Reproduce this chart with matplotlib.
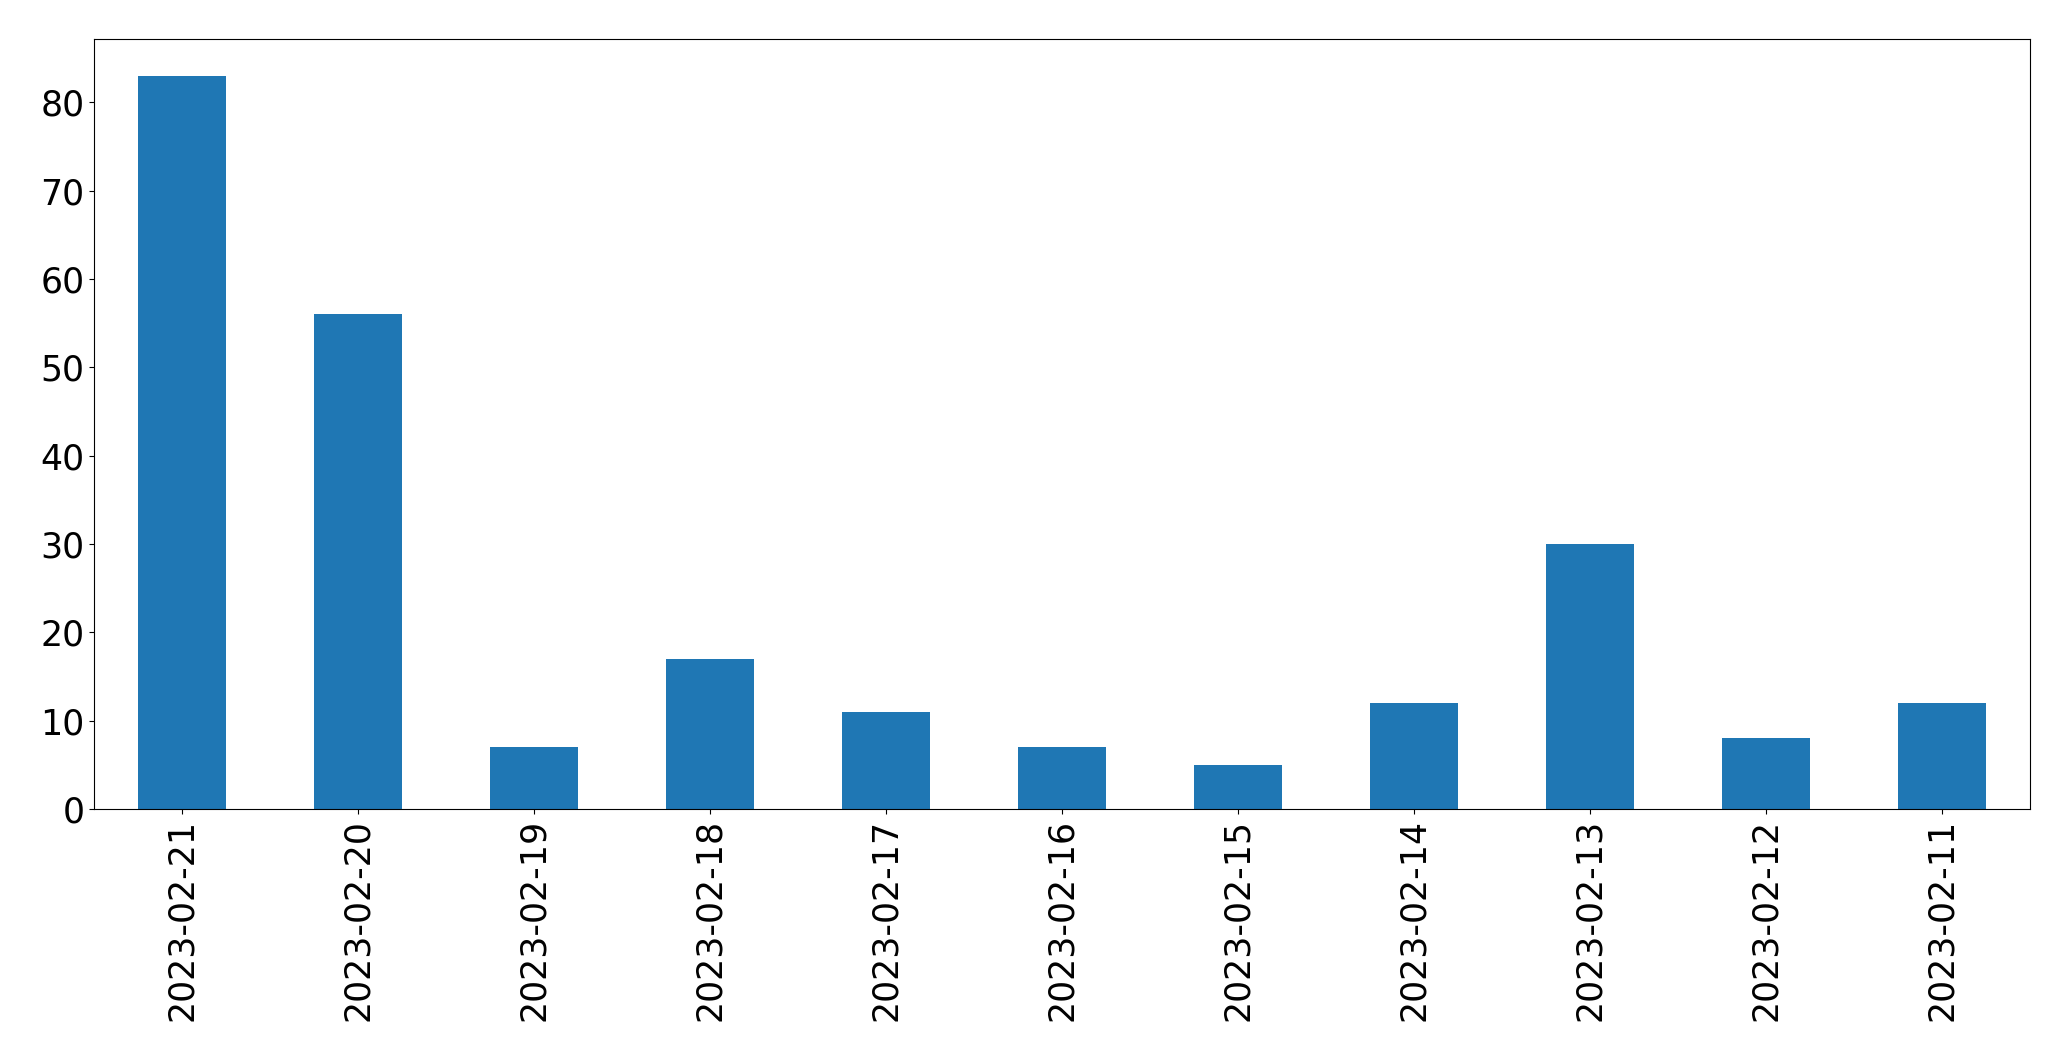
import matplotlib
matplotlib.use("Agg")
import matplotlib.pyplot as plt
import pandas as pd

dates = ["2023-02-21", "2023-02-20", "2023-02-19", "2023-02-18", "2023-02-17",
         "2023-02-16", "2023-02-15", "2023-02-14", "2023-02-13", "2023-02-12",
         "2023-02-11"]
counts = [83, 56, 7, 17, 11, 7, 5, 12, 30, 8, 12]

s = pd.Series(counts, index=dates)

fig, ax = plt.subplots(figsize=(20.71, 10.61), dpi=100)
s.plot(kind="bar", ax=ax, color="#1f77b4", fontsize=25)
fig.subplots_adjust(left=94 / 2071, right=2030 / 2071, top=1 - 39 / 1061, bottom=1 - 809 / 1061)

fig.savefig("out.png", dpi=100)
